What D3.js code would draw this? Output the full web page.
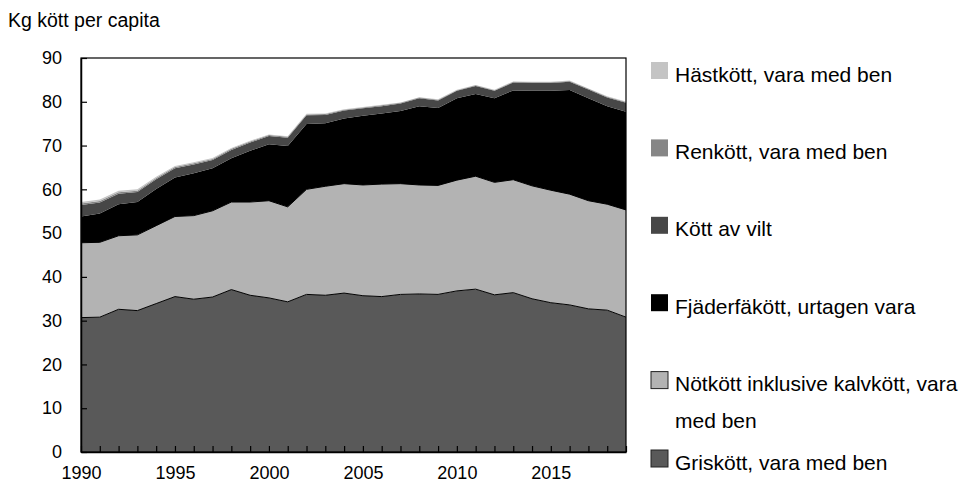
<!DOCTYPE html>
<html>
<head>
<meta charset="utf-8">
<script src="https://cdn.jsdelivr.net/npm/d3@7"></script>
<style>
  body { margin: 0; background: #fff; }
  text { font-family: "Liberation Sans", Arial, sans-serif; fill: #000; }
</style>
</head>
<body>
<div id="chart"></div>
<script>
// Data (kg per capita)
const years = d3.range(1990, 2020);
const griskott = [30.7, 30.8, 32.6, 32.3, 33.9, 35.5, 34.9, 35.4, 37.1, 35.8, 35.2, 34.3, 36.0, 35.8, 36.3,
                  35.7, 35.5, 36.0, 36.1, 36.0, 36.8, 37.2, 35.9, 36.4, 35.0, 34.1, 33.6, 32.7, 32.4, 30.8];
const notkott = [17.1, 17.1, 16.8, 17.3, 17.8, 18.3, 19.1, 19.7, 20.0, 21.3, 22.2, 21.7, 24.0, 24.9, 25.0,
                 25.3, 25.7, 25.3, 24.9, 24.9, 25.3, 25.8, 25.7, 25.8, 25.8, 25.7, 25.3, 24.7, 24.2, 24.5];
const fjaderfa = [6.0, 6.6, 7.2, 7.5, 8.4, 8.9, 9.7, 9.7, 10.0, 11.7, 12.9, 13.9, 14.9, 14.4, 14.9,
                  15.8, 16.1, 16.6, 18.0, 17.7, 18.7, 18.8, 19.2, 20.4, 21.7, 22.7, 23.8, 23.4, 22.4, 22.4];
const vilt = [2.6, 2.5, 2.4, 2.3, 2.2, 2.1, 2.0, 1.9, 1.9, 1.9, 1.9, 1.9, 2.0, 1.9, 1.8,
              1.7, 1.7, 1.7, 1.8, 1.7, 1.7, 1.8, 1.7, 1.8, 1.8, 1.8, 1.9, 2.0, 2.0, 2.1];
const renkott = [0.35, 0.35, 0.35, 0.3, 0.3, 0.3, 0.25, 0.25, 0.25, 0.2, 0.2, 0.2, 0.2, 0.2, 0.2,
                 0.2, 0.2, 0.15, 0.15, 0.15, 0.15, 0.15, 0.15, 0.15, 0.15, 0.15, 0.15, 0.15, 0.15, 0.15];
const hastkott = [0.35, 0.35, 0.3, 0.3, 0.3, 0.25, 0.25, 0.2, 0.2, 0.2, 0.15, 0.15, 0.15, 0.15, 0.1,
                  0.1, 0.1, 0.1, 0.1, 0.1, 0.1, 0.1, 0.1, 0.1, 0.1, 0.1, 0.1, 0.1, 0.1, 0.1];
const yTicks = [0, 10, 20, 30, 40, 50, 60, 70, 80, 90];
const xTicks = [1990, 1995, 2000, 2005, 2010, 2015];

const series = [
  { key: "gris", name: "Griskött, vara med ben", values: griskott, color: "#595959", outline: true },
  { key: "not", name: "Nötkött inklusive kalvkött, vara med ben", values: notkott, color: "#b3b3b3", outline: true },
  { key: "fja", name: "Fjäderfäkött, urtagen vara", values: fjaderfa, color: "#000000" },
  { key: "vilt", name: "Kött av vilt", values: vilt, color: "#474747" },
  { key: "ren", name: "Renkött, vara med ben", values: renkott, color: "#868686" },
  { key: "hast", name: "Hästkött, vara med ben", values: hastkott, color: "#c4c4c4" }
];

const svgWidth = 961;
const svgHeight = 485;
const margin = { top: 58, right: 335, bottom: 33, left: 81 };
const width = svgWidth - margin.left - margin.right;
const height = svgHeight - margin.top - margin.bottom;

const svg = d3.select("#chart").append("svg")
    .attr("width", svgWidth)
    .attr("height", svgHeight);

const chart = svg.append("g")
    .attr("transform", `translate(${margin.left}, ${margin.top})`);

// Scales
const xScale = d3.scaleLinear()
    .domain([1990, 2019])
    .range([0, width]);

const yScale = d3.scaleLinear()
    .domain([0, 90])
    .range([height, 0]);

// Stack
const table = years.map((y, i) => {
  const row = { year: y };
  series.forEach(s => row[s.key] = s.values[i]);
  return row;
});
const stacked = d3.stack().keys(series.map(s => s.key))(table);

const area = d3.area()
    .x(d => xScale(d.data.year))
    .y0(d => yScale(d[0]))
    .y1(d => yScale(d[1]));

chart.selectAll(".layer")
    .data(stacked)
    .enter()
    .append("path")
    .attr("class", "layer")
    .attr("d", area)
    .attr("fill", (d, i) => series[i].color);

// thin outline on top of the bordered series
const topLine = d3.line()
    .x(d => xScale(d.data.year))
    .y(d => yScale(d[1]));

chart.selectAll(".outline")
    .data(stacked.filter((d, i) => series[i].outline))
    .enter()
    .append("path")
    .attr("class", "outline")
    .attr("d", topLine)
    .attr("fill", "none")
    .attr("stroke", "#000")
    .attr("stroke-width", 1);

// Frame
chart.append("rect")
    .attr("x", 0)
    .attr("y", 0)
    .attr("width", width)
    .attr("height", height)
    .attr("fill", "none")
    .attr("stroke", "#000")
    .attr("stroke-width", 1.2);

// Axes
const xAxis = d3.axisBottom(xScale)
    .tickValues(years)
    .tickSizeInner(-6)
    .tickSizeOuter(0)
    .tickFormat(d => xTicks.includes(d) ? d : "");

const yAxis = d3.axisLeft(yScale)
    .tickValues(yTicks)
    .tickSizeInner(-6)
    .tickSizeOuter(0);

const gx = chart.append("g")
    .attr("transform", `translate(0, ${height})`)
    .call(xAxis);
gx.select(".domain").attr("stroke-width", 1.5);
gx.selectAll("line").attr("stroke-width", 1.2);
gx.selectAll("text")
    .attr("y", 14)
    .style("font-size", "18px")
    .style("font-family", "'Liberation Sans', Arial, sans-serif");

const gy = chart.append("g")
    .call(yAxis);
gy.select(".domain").attr("stroke-width", 1.5);
gy.selectAll("line").attr("stroke-width", 1.2);
gy.selectAll("text")
    .attr("x", -19)
    .style("font-size", "18px")
    .style("font-family", "'Liberation Sans', Arial, sans-serif");

// Title
svg.append("text")
    .attr("x", 8)
    .attr("y", 27)
    .style("font-size", "19.5px")
    .text("Kg kött per capita");

// Legend (top to bottom in reverse stack order)
const legendItems = series.slice().reverse();
const legend = svg.append("g")
    .attr("transform", "translate(651, 62)");

legendItems.forEach((s, i) => {
  const yOff = i * 77.4 + (i === 5 ? 1 : 0);
  const g = legend.append("g").attr("transform", `translate(0, ${yOff})`);
  g.append("rect")
      .attr("width", 17)
      .attr("height", 17)
      .attr("fill", s.color)
      .attr("stroke", s.outline ? "#222" : "none")
      .attr("stroke-width", 1);
  if (s.key === "not") {
    g.append("text").attr("x", 24).attr("y", 19.5).style("font-size", "21px").text("Nötkött inklusive kalvkött, vara");
    g.append("text").attr("x", 24).attr("y", 56).style("font-size", "21px").text("med ben");
  } else {
    g.append("text").attr("x", 24).attr("y", 19.5).style("font-size", "21px").text(s.name);
  }
});
</script>
</body>
</html>
